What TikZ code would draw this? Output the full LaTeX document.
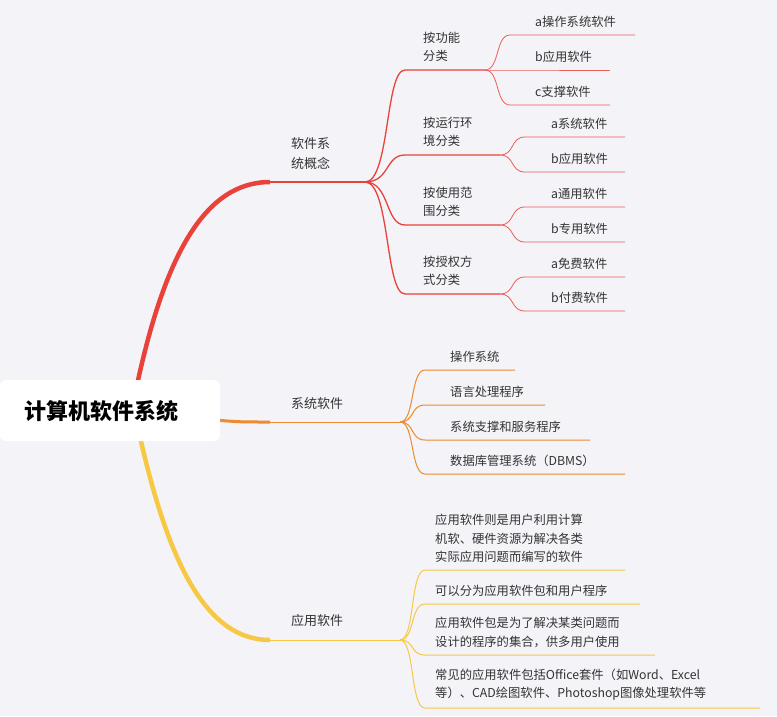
\documentclass[tikz,border=0pt]{standalone}
\usepackage{fontspec}
\setmainfont{Noto Sans CJK SC}
\begin{document}
\begin{tikzpicture}[x=1pt,y=-1pt,
 txt/.style={anchor=south west,inner sep=0pt,align=left,font=\fontsize{12.3}{18.5}\selectfont,text=black!80},
 big/.style={txt,font=\fontsize{13}{20}\selectfont},
 red1/.style={draw=cR,line width=1.3pt},
 red2/.style={draw=cR!85,line width=0.8pt},
 org/.style={draw=cO,line width=1pt},
 yel/.style={draw=cY,line width=1pt}]
\definecolor{cR}{HTML}{E8423A}\definecolor{cO}{HTML}{EE8A2F}\definecolor{cY}{HTML}{F7C843}
\definecolor{bg}{HTML}{F4F3F8}
\fill[bg] (0,0) rectangle (777,716);
\useasboundingbox (0,0) rectangle (777,716);
% main branches
\draw[cR,line width=4.5pt] (137,385) .. controls (165,255) and (205,182) .. (270,182);
\draw[red1] (270,182) -- (365,182);
\draw[cY,line width=4.5pt] (140,437) .. controls (168,560) and (205,640) .. (270,640);
\draw[yel] (270,640) -- (400,640);
\draw[cO,line width=3pt] (215,420) .. controls (240,422) .. (270,422);
\draw[org] (270,422) -- (400,422);
\node[fill=white,rounded corners=6pt,minimum width=220pt,minimum height=61pt,inner sep=0pt] (root) at (110,410.5) {};
\node[anchor=west,inner sep=0pt,font=\fontsize{22}{24}\selectfont\bfseries] (rt) at (24,411) {计算机软件系统};
\node[big] (n1) at (291,170) {软件系\\统概念};
\node[big] (n2) at (291,410) {系统软件};
\node[big] (n3) at (291,627) {应用软件};
\coordinate (r) at (365,182);
\coordinate (o) at (400,422);
\coordinate (y) at (400,640);
% red level 2
\foreach \yy/\xe/\t/\nm in {70/485/按功能\\分类/a,155/500/按运行环\\境分类/b,225/500/按使用范\\围分类/c,294/500/按授权方\\式分类/d}{
 \draw[red1] (r) .. controls (390,182) and (385,\yy) .. (405,\yy) -- (\xe,\yy);
 \node[txt] (\nm) at (423,\yy-8) {\t};
 \coordinate (\nm e) at (\xe,\yy);
}
\foreach \st/\yy/\xe in {ae/35/635,ae/70/610,ae/105/610}{
 \draw[red2] (\st) .. controls +(15,0) and (495,\yy) .. (510,\yy) -- (\xe,\yy);
}
\node[txt] at (535,28) {a操作系统软件};
\node[txt] at (535,63) {b应用软件};
\node[txt] at (535,98) {c支撑软件};
\foreach \st/\yy/\t in {be/137/a系统软件,be/172/b应用软件,ce/207/a通用软件,ce/242/b专用软件,de/277/a免费软件,de/311/b付费软件}{
 \draw[red2] (\st) .. controls +(15,0) and (510,\yy) .. (525,\yy) -- (625,\yy);
 \node[txt] at (551,\yy-7) {\t};
}
% orange
\foreach \yy/\xe/\t in {370/515/操作系统,405/545/语言处理程序,440/590/系统支撑和服务程序,474/625/数据库管理系统（DBMS）}{
 \draw[org] (o) .. controls +(15,0) and (410,\yy) .. (425,\yy) -- (\xe,\yy);
 \node[txt] at (450,\yy-7) {\t};
}
% yellow
\foreach \yy/\xe/\t in {570/625/应用软件则是用户利用计算\\机软、硬件资源为解决各类\\实际应用问题而编写的软件,604/640/可以分为应用软件包和用户程序,655/655/应用软件包是为了解决某类问题而\\设计的程序的集合，供多用户使用,708/760/常见的应用软件包括Office套件（如Word、Excel\\等）、CAD绘图软件、Photoshop图像处理软件等}{
 \draw[yel] (y) .. controls +(15,0) and (410,\yy) .. (425,\yy) -- (\xe,\yy);
 \node[txt] at (435,\yy-7) {\t};
}
\end{tikzpicture}
\end{document}
